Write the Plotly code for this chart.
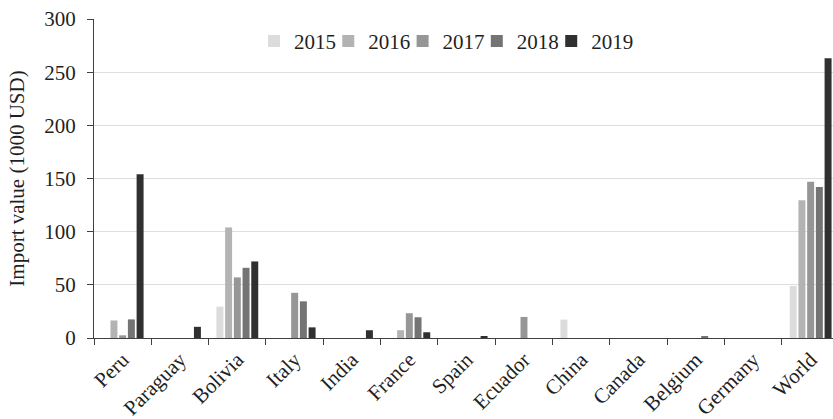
import plotly.graph_objects as go

countries = ["Peru", "Paraguay", "Bolivia", "Italy", "India", "France", "Spain",
             "Ecuador", "China", "Canada", "Belgium", "Germany", "World"]
years = ["2015", "2016", "2017", "2018", "2019"]

v2015 = [0, 0, 29.5, 0, 0, 0, 0, 0, 17.3, 0, 0, 0, 49]
v2016 = [16.5, 0, 104, 0, 0, 7.3, 0, 0, 0, 0, 0, 0, 129.5]
v2017 = [2.5, 0, 57, 42.5, 0, 23.3, 0, 19.8, 0, 0, 0, 0, 147]
v2018 = [17.5, 0, 66, 34.5, 0, 19.5, 0, 0, 0, 0, 1.9, 0, 142]
v2019 = [154, 10.5, 72, 10, 7.3, 5.4, 1.6, 0, 0, 0, 0, 0, 263]

series = [v2015, v2016, v2017, v2018, v2019]
colors = ["#dcdcdc", "#b3b3b3", "#969696", "#747474", "#303030"]

y_ticks = [0, 50, 100, 150, 200, 250, 300]

FONT = "Liberation Serif"
TEXT_COLOR = "#1f1f1f"
AXIS_COLOR = "#404040"

# one single-entry legend per year, laid out in a row above the bars
legend_ids = ["legend", "legend2", "legend3", "legend4", "legend5"]
legend_x = [0.2165, 0.317, 0.4176, 0.518, 0.6187]

fig = go.Figure()
for year, vals, col, lid in zip(years, series, colors, legend_ids):
    fig.add_trace(go.Bar(name=year, x=countries, y=vals, marker_color=col,
                         marker_line_width=0, legend=lid))

legend_style = dict(orientation="h", yanchor="middle", y=0.93, xanchor="left",
                    font=dict(family=FONT, size=21, color=TEXT_COLOR),
                    itemwidth=30, bgcolor="rgba(0,0,0,0)")
fig.update_layout(**{lid: dict(legend_style, x=lx) for lid, lx in zip(legend_ids, legend_x)})

fig.update_layout(
    width=833, height=419,
    margin=dict(l=94, r=0, t=19, b=81),
    paper_bgcolor="white", plot_bgcolor="white",
    barmode="group", bargap=0.24, bargroupgap=0.2,
    font=dict(family=FONT, size=21, color=TEXT_COLOR),
    showlegend=True,
)

fig.update_xaxes(
    range=[-0.5, 12.39],
    tickangle=-45, tickson="boundaries",
    ticks="outside", ticklen=6, tickcolor=AXIS_COLOR, tickwidth=1.3,
    showline=True, linecolor=AXIS_COLOR, linewidth=1.3,
    showgrid=False,
    tickfont=dict(family=FONT, size=21, color=TEXT_COLOR),
)

fig.update_yaxes(
    range=[0, 300], tickvals=y_ticks,
    ticks="outside", ticklen=6, tickcolor=AXIS_COLOR, tickwidth=1.3,
    ticklabelstandoff=7,
    showline=True, linecolor=AXIS_COLOR, linewidth=1.3,
    showgrid=True, gridcolor="#dedede", gridwidth=1.3,
    zeroline=False,
    tickfont=dict(family=FONT, size=21, color=TEXT_COLOR),
    title=dict(text="Import value (1000 USD)", standoff=13,
               font=dict(family=FONT, size=21, color=TEXT_COLOR)),
)

fig.write_html("out.html")
